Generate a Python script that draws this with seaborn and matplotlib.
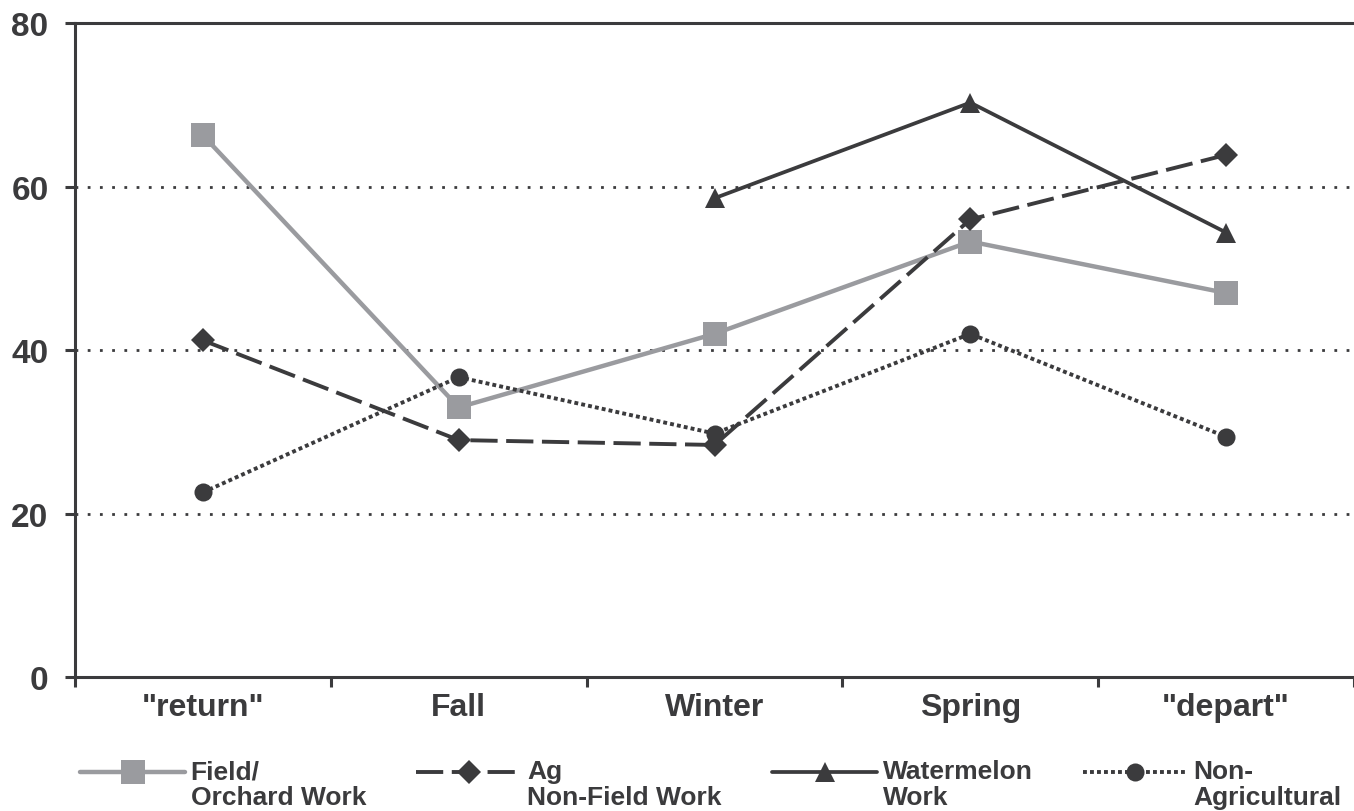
import numpy as np
import pandas as pd
import matplotlib
matplotlib.use('Agg')
import matplotlib.pyplot as plt
import seaborn as sns
from matplotlib.lines import Line2D

seasons = ['"return"', 'Fall', 'Winter', 'Spring', '"depart"']
field_orchard = [66.3, 33.0, 42.0, 53.3, 47.0]
ag_non_field = [41.2, 29.0, 28.4, 56.0, 63.9]
watermelon = [np.nan, np.nan, 58.6, 70.3, 54.4]
non_agricultural = [22.6, 36.7, 29.8, 42.0, 29.4]

labels = ['Field/\nOrchard Work', 'Ag\nNon-Field Work', 'Watermelon\nWork', 'Non-\nAgricultural']

GRAY = '#9a9b9f'
DARK = '#3b3b3d'

sns.set_style('white')
plt.rcParams['font.family'] = ['Liberation Sans', 'DejaVu Sans']
plt.rcParams['font.weight'] = 'bold'

fig = plt.figure(figsize=(13.54, 8.12), dpi=100)
ax = fig.add_axes([0.0554, 0.165, 0.9446, 0.805])

x = np.arange(len(seasons))
styles = [
    (field_orchard, GRAY, 's', 17, '-', 3.2),
    (ag_non_field, DARK, 'D', 12, (0, (7, 2.2)), 2.8),
    (watermelon, DARK, '^', 15, '-', 2.7),
    (non_agricultural, DARK, 'o', 13, (0, (1, 0.8)), 2.8),
]

handles = []
for (vals, col, mk, ms, ls, lw), lab in zip(styles, labels):
    df = pd.DataFrame({'x': x, 'y': vals}).dropna()
    sns.lineplot(data=df, x='x', y='y', ax=ax, color=col, marker=mk, markersize=ms,
                 markeredgewidth=0, linestyle=ls, linewidth=lw)
    handles.append(Line2D([], [], color=col, marker=mk, markersize=ms, markeredgewidth=0,
                          linestyle=ls, linewidth=lw))

ax.set_xlim(-0.5, 4.5)
ax.set_ylim(0, 80)
ax.set_yticks([0, 20, 40, 60, 80])
ax.set_xticks(x)
ax.set_xticklabels(seasons)
ax.set_xticks(np.arange(-0.5, 4.6, 1), minor=True)
ax.set_xlabel('')
ax.set_ylabel('')

for yv in [20, 40, 60]:
    ax.axhline(yv, color=DARK, linestyle=(0, (1, 3.4)), linewidth=2.0, zorder=0)

for side in ['left', 'bottom', 'top']:
    ax.spines[side].set_color(DARK)
    ax.spines[side].set_linewidth(2.2)
ax.spines['right'].set_visible(False)

ax.tick_params(axis='y', which='major', length=7, width=2.2, color=DARK, pad=12,
               labelsize=24, labelcolor=DARK, left=True)
ax.tick_params(axis='x', which='major', length=0, pad=11, labelsize=23, labelcolor=DARK, bottom=True)
ax.tick_params(axis='x', which='minor', length=7, width=2.2, color=DARK, bottom=True)
for t in ax.get_xticklabels() + ax.get_yticklabels():
    t.set_fontweight('bold')

leg_labels = [' \n' + l for l in labels]
leg = fig.legend(handles, leg_labels, loc='lower left', bbox_to_anchor=(0.059, 0.002),
                 ncol=4, frameon=False, handlelength=4.0, handletextpad=0.2,
                 columnspacing=1.9, borderpad=0, borderaxespad=0,
                 prop={'size': 19, 'weight': 'bold'}, labelcolor=DARK)
for t in leg.get_texts():
    t.set_linespacing(1.1)

fig.savefig('out.png', dpi=100)
